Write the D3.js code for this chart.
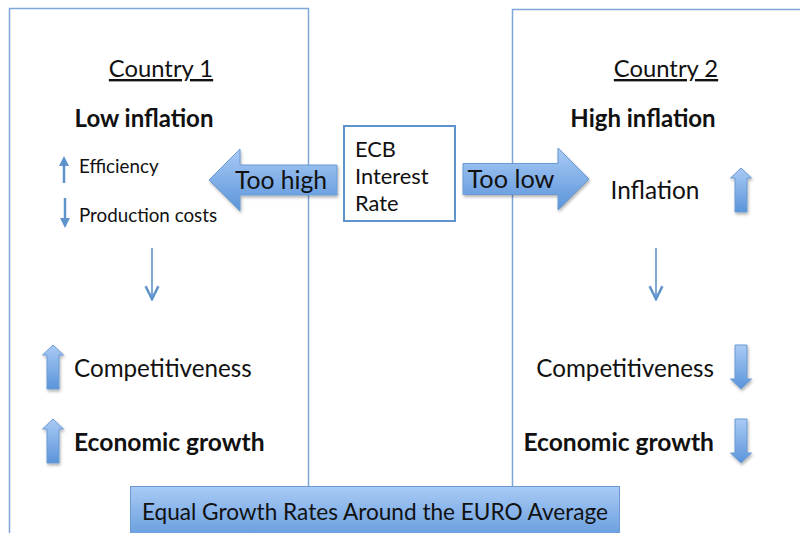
<!DOCTYPE html>
<html>
<head>
<meta charset="utf-8">
<script src="https://cdn.jsdelivr.net/npm/d3@7"></script>
<style>
  body { margin: 0; background: #fff; }
  svg { display: block; font-family: Lato, "Open Sans", sans-serif; }
</style>
</head>
<body>
<div id="chart"></div>
<script>
// titles of the two country panels
const countries = ["Country 1", "Country 2"];
const inflationLabels = ["Low inflation", "High inflation"];

// small effects in country 1 (text, direction)
const leftSmall = [
  { text: "Efficiency", dir: "up" },
  { text: "Production costs", dir: "down" }
];
// main outcomes (text, bold, direction per country)
const outcomes = ["Competitiveness", "Economic growth"];
const outcomeBold = [false, true];
const leftDirs = ["up", "up"];
const rightDirs = ["down", "down"];

const rightTop = { text: "Inflation", dir: "up" };
const ecbLines = ["ECB", "Interest", "Rate"];
const arrowLabels = ["Too high", "Too low"];
const banner = "Equal Growth Rates Around the EURO Average";

const width = 800, height = 533;
const svg = d3.select("#chart").append("svg")
  .attr("width", width).attr("height", height);

const defs = svg.append("defs");
// gradient used for block arrows and banner
const grad = defs.append("linearGradient").attr("id", "blue")
  .attr("x1", 0).attr("y1", 0).attr("x2", 0).attr("y2", 1);
grad.append("stop").attr("offset", "0%").attr("stop-color", "#a9cbf5");
grad.append("stop").attr("offset", "100%").attr("stop-color", "#5b94da");

const shadow = defs.append("filter").attr("id", "shadow")
  .attr("x", "-20%").attr("y", "-20%").attr("width", "150%").attr("height", "150%");
shadow.append("feDropShadow").attr("dx", 1).attr("dy", 2)
  .attr("stdDeviation", 1.5).attr("flood-color", "#000").attr("flood-opacity", 0.3);

defs.append("marker").attr("id", "head")
  .attr("viewBox", "0 0 10 10").attr("refX", 5).attr("refY", 5)
  .attr("markerWidth", 4).attr("markerHeight", 4).attr("orient", "auto")
  .append("path").attr("d", "M0,0 L10,5 L0,10 Z").attr("fill", "#5f93cc");

defs.append("marker").attr("id", "chev")
  .attr("viewBox", "0 0 10 10").attr("refX", 9).attr("refY", 5)
  .attr("markerWidth", 16).attr("markerHeight", 16).attr("orient", "auto")
  .attr("markerUnits", "userSpaceOnUse")
  .append("path").attr("d", "M1,1 L9,5 L1,9").attr("fill", "none")
  .attr("stroke", "#5f93cc").attr("stroke-width", 1.6);

// vertical layout of the rows
const rowY = d3.scaleOrdinal()
  .domain(["title", "inflation", "small0", "small1", "chain", "out0", "out1"])
  .range([77, 127, 173, 222, 274, 377, 451]);

// block arrow: horizontal (dir left/right) or vertical (up/down)
function blockArrow(g, dir, cx, cy, len, w, bodyW, headL) {
  let p;
  if (dir === "left" || dir === "right") {
    const s = dir === "left" ? -1 : 1;
    const tip = cx + s * len / 2, tail = cx - s * len / 2, base = tip - s * headL;
    p = [[tail, cy - bodyW / 2], [base, cy - bodyW / 2], [base, cy - w / 2], [tip, cy],
         [base, cy + w / 2], [base, cy + bodyW / 2], [tail, cy + bodyW / 2]];
  } else {
    const s = dir === "up" ? -1 : 1;
    const tip = cy + s * len / 2, tail = cy - s * len / 2, base = tip - s * headL;
    p = [[cx - bodyW / 2, tail], [cx - bodyW / 2, base], [cx - w / 2, base], [cx, tip],
         [cx + w / 2, base], [cx + bodyW / 2, base], [cx + bodyW / 2, tail]];
  }
  g.append("path")
    .attr("d", d3.line()(p) + "Z")
    .attr("fill", "url(#blue)")
    .attr("stroke", "#6b9ad3").attr("stroke-width", 1)
    .attr("filter", "url(#shadow)");
}

function thinArrow(g, x, y0, y1, marker, sw) {
  g.append("line")
    .attr("x1", x).attr("x2", x).attr("y1", y0).attr("y2", y1)
    .attr("stroke", "#5f93cc").attr("stroke-width", sw)
    .attr("marker-end", `url(#${marker})`);
}

// panel frames
svg.append("rect").attr("x", 9.5).attr("y", 8.5).attr("width", 299).attr("height", 540)
  .attr("fill", "none").attr("stroke", "#7ea6d8").attr("stroke-width", 1.5);
svg.append("rect").attr("x", 512.5).attr("y", 9.5).attr("width", 300).attr("height", 540)
  .attr("fill", "none").attr("stroke", "#7ea6d8").attr("stroke-width", 1.5);

const titleX = [161, 666];
countries.forEach((c, i) => {
  svg.append("text").attr("x", titleX[i]).attr("y", rowY("title"))
    .attr("text-anchor", "middle").attr("font-size", 23.8).attr("fill", "#111")
    .attr("text-decoration", "underline").text(c);
});
const inflX = [144, 643];
inflationLabels.forEach((c, i) => {
  svg.append("text").attr("x", inflX[i]).attr("y", rowY("inflation"))
    .attr("text-anchor", "middle").attr("font-size", 24).attr("font-weight", "bold")
    .attr("fill", "#111").text(c);
});

// country 1 small effects
leftSmall.forEach((d, i) => {
  const y = rowY("small" + i);
  svg.append("text").attr("x", 79).attr("y", y).attr("font-size", 18.8)
    .attr("fill", "#111").text(d.text);
  if (d.dir === "up") thinArrow(svg, 64, y + 10, y - 12, "head", 2.5);
  else thinArrow(svg, 65, y - 24, y + 1, "head", 2.5);
});

// chains down to outcomes
thinArrow(svg, 152, 248, 299, "chev", 1.6);
thinArrow(svg, 656, 248, 299, "chev", 1.6);

// outcomes
outcomes.forEach((o, i) => {
  const y = rowY("out" + i);
  const fs = outcomeBold[i] ? 24.6 : 24.2;
  svg.append("text").attr("x", 74).attr("y", y).attr("font-size", fs)
    .attr("font-weight", outcomeBold[i] ? "bold" : "normal").attr("fill", "#111").text(o);
  blockArrow(svg, leftDirs[i], 53, y - 10, 44, 21, 12, 10);
  svg.append("text").attr("x", 714).attr("y", y).attr("text-anchor", "end").attr("font-size", fs)
    .attr("font-weight", outcomeBold[i] ? "bold" : "normal").attr("fill", "#111").text(o);
  blockArrow(svg, rightDirs[i], 741, y - 10, 44, 21, 12, 10);
});

// inflation in country 2
svg.append("text").attr("x", 655).attr("y", 199).attr("text-anchor", "middle")
  .attr("font-size", 24.4).attr("fill", "#111").text(rightTop.text);
blockArrow(svg, rightTop.dir, 741, 190, 44, 21, 12, 10);

// ECB box
svg.append("rect").attr("x", 344).attr("y", 126).attr("width", 111).attr("height", 95)
  .attr("fill", "#fff").attr("stroke", "#5f93cc").attr("stroke-width", 2);
ecbLines.forEach((l, i) => {
  svg.append("text").attr("x", 355).attr("y", 157 + i * 27).attr("font-size", 21.8)
    .attr("fill", "#111").text(l);
});

// too high / too low arrows
blockArrow(svg, "left", 273, 180, 128, 62, 30, 31);
blockArrow(svg, "right", 526, 179, 126, 62, 31, 31);
svg.append("text").attr("x", 281).attr("y", 189).attr("text-anchor", "middle")
  .attr("font-size", 24.7).attr("fill", "#111").text(arrowLabels[0]);
svg.append("text").attr("x", 511).attr("y", 188).attr("text-anchor", "middle")
  .attr("font-size", 25.3).attr("fill", "#111").text(arrowLabels[1]);

// banner
svg.append("rect").attr("x", 130.5).attr("y", 486.5).attr("width", 489).attr("height", 60)
  .attr("fill", "url(#blue)").attr("stroke", "#6b9ad3").attr("stroke-width", 1);
svg.append("text").attr("x", 375).attr("y", 520).attr("text-anchor", "middle")
  .attr("font-size", 22.6).attr("fill", "#111").text(banner);
</script>
</body>
</html>
